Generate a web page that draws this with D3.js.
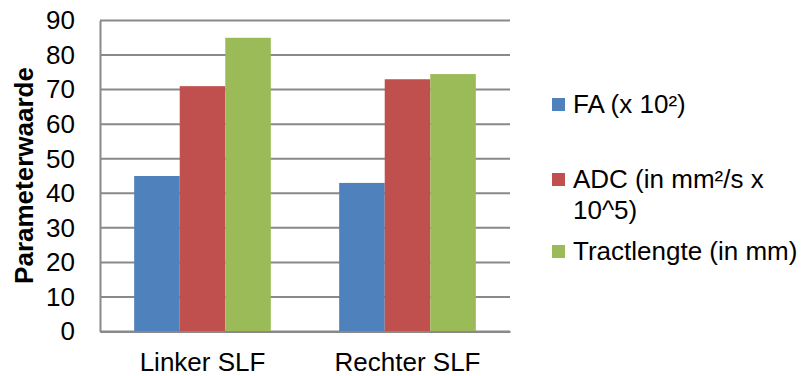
<!DOCTYPE html>
<html>
<head>
<meta charset="utf-8">
<script src="https://cdn.jsdelivr.net/npm/d3@7"></script>
<style>
  html, body { margin: 0; padding: 0; background: #fff; }
  svg { display: block; font-family: Arial, "Liberation Sans", sans-serif; }
</style>
</head>
<body>
<svg id="chart" width="805" height="376"></svg>
<script>
// Chart data
const categories = ["Linker SLF", "Rechter SLF"];
const seriesNames = ["FA (x 10²)", "ADC (in mm²/s x 10^5)", "Tractlengte (in mm)"];
const legendLines = [["FA (x 10²)"], ["ADC (in mm²/s x", "10^5)"], ["Tractlengte (in mm)"]];
const faValues = [45, 43];
const adcValues = [71, 73];
const tractValues = [85, 74.5];
const yTicks = [0, 10, 20, 30, 40, 50, 60, 70, 80, 90];
const colors = ["#4F81BD", "#C0504D", "#9BBB59"];
const yTitle = "Parameterwaarde";

const seriesValues = [faValues, adcValues, tractValues];

const svg = d3.select("#chart");
const margin = { left: 100, top: 20.5, right: 295, bottom: 44.5 };
const W = 805, H = 376;
const plotW = W - margin.left - margin.right;
const plotH = H - margin.top - margin.bottom;
const fontSize = 26;
const fontFamily = "Arial, 'Liberation Sans', sans-serif";

const g = svg.append("g").attr("transform", `translate(${margin.left},${margin.top})`);

const x0 = d3.scaleBand().domain(categories).range([0, plotW]).paddingInner(0).paddingOuter(0);
// group of 3 bars with 150% gap width
const groupW = x0.bandwidth() * 3 / 4.5;
const x1 = d3.scaleBand().domain(d3.range(seriesNames.length)).range([0, groupW]);
const y = d3.scaleLinear().domain([0, 90]).range([plotH, 0]);

const gridColor = "#898989";

// horizontal gridlines
g.append("g").selectAll("line").data(yTicks).join("line")
  .attr("x1", 0).attr("x2", plotW)
  .attr("y1", d => y(d)).attr("y2", d => y(d))
  .attr("stroke", gridColor).attr("stroke-width", 2);

// bars
const groups = g.append("g").selectAll("g").data(categories).join("g")
  .attr("transform", c => `translate(${x0(c) + (x0.bandwidth() - groupW) / 2},0)`);
groups.selectAll("rect")
  .data((c, ci) => seriesValues.map((vals, si) => ({ si, v: vals[ci] })))
  .join("rect")
  .attr("x", d => x1(d.si))
  .attr("width", x1.bandwidth())
  .attr("y", d => y(d.v))
  .attr("height", d => plotH - y(d.v))
  .attr("fill", d => colors[d.si]);

// y axis
const yAxis = d3.axisLeft(y).tickValues(yTicks).tickSize(0).tickPadding(25);
const ya = g.append("g").call(yAxis);
ya.select(".domain").attr("stroke", gridColor).attr("stroke-width", 2);
ya.selectAll("text").attr("font-size", fontSize).attr("fill", "#000")
  .attr("font-family", fontFamily);

// x axis
const xAxis = d3.axisBottom(x0).tickSize(0).tickPadding(21.5);
const xa = g.append("g").attr("transform", `translate(0,${plotH})`).call(xAxis);
xa.select(".domain").attr("stroke", gridColor).attr("stroke-width", 2);
xa.selectAll("text").attr("font-size", fontSize).attr("fill", "#000")
  .attr("font-family", fontFamily);

// y axis title
svg.append("text")
  .attr("transform", `translate(${33},${margin.top + plotH / 2 - 0.5}) rotate(-90)`)
  .attr("text-anchor", "middle")
  .attr("font-size", fontSize).attr("font-weight", "bold").attr("fill", "#000")
  .text(yTitle);

// legend
const legendY = [113, 188, 260];
const legend = svg.append("g");
legendLines.forEach((lines, i) => {
  const baseline = legendY[i];
  legend.append("rect")
    .attr("x", 552).attr("y", baseline - 15)
    .attr("width", 13).attr("height", 13)
    .attr("fill", colors[i]);
  const t = legend.append("text")
    .attr("x", 573).attr("y", baseline)
    .attr("font-size", fontSize).attr("fill", "#000");
  lines.forEach((ln, k) => {
    t.append("tspan").attr("x", 573).attr("dy", k === 0 ? 0 : 31).text(ln);
  });
});
</script>
</body>
</html>
